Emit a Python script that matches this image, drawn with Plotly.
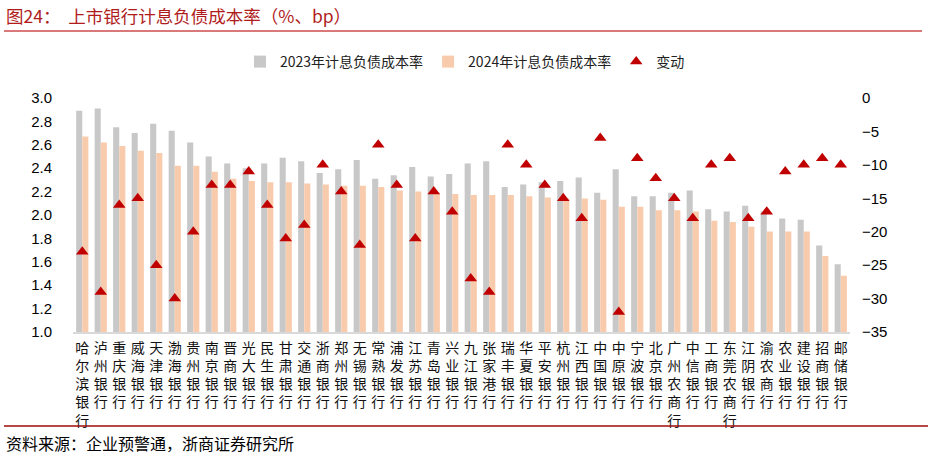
import plotly.graph_objects as go

banks = ["哈尔滨银行", "泸州银行", "重庆银行", "威海银行", "天津银行", "渤海银行", "贵州银行",
         "南京银行", "晋商银行", "光大银行", "民生银行", "甘肃银行", "交通银行", "浙商银行",
         "郑州银行", "无锡银行", "常熟银行", "浦发银行", "江苏银行", "青岛银行", "兴业银行",
         "九江银行", "张家港行", "瑞丰银行", "华夏银行", "平安银行", "杭州银行", "江西银行",
         "中国银行", "中原银行", "宁波银行", "北京银行", "广州农商行", "中信银行", "工商银行",
         "东莞农商行", "江阴银行", "渝农商行", "农业银行", "建设银行", "招商银行", "邮储银行"]

rate_2023 = [2.89, 2.91, 2.75, 2.70, 2.78, 2.72, 2.62, 2.50, 2.44, 2.40, 2.44, 2.49, 2.46, 2.36,
             2.39, 2.47, 2.31, 2.34, 2.41, 2.33, 2.35, 2.44, 2.46, 2.24, 2.26, 2.28, 2.29, 2.32,
             2.19, 2.39, 2.16, 2.16, 2.19, 2.21, 2.05, 2.03, 2.08, 2.03, 1.97, 1.96, 1.74, 1.58]

rate_2024 = [2.67, 2.62, 2.59, 2.55, 2.53, 2.42, 2.42, 2.37, 2.31, 2.29, 2.28, 2.28, 2.27, 2.26,
             2.25, 2.25, 2.24, 2.21, 2.20, 2.19, 2.18, 2.17, 2.17, 2.17, 2.16, 2.15, 2.14, 2.14,
             2.13, 2.07, 2.07, 2.04, 2.04, 2.03, 1.95, 1.94, 1.90, 1.86, 1.86, 1.86, 1.65, 1.48]

change_bp = [-23, -29, -16, -15, -25, -30, -20, -13, -13, -11, -16, -21, -19, -10,
             -14, -22, -7, -13, -21, -14, -17, -27, -29, -7, -10, -13, -15, -18,
             -6, -32, -9, -12, -15, -18, -10, -9, -18, -17, -11, -10, -9, -10]

left_ticks = [1.0, 1.2, 1.4, 1.6, 1.8, 2.0, 2.2, 2.4, 2.6, 2.8, 3.0]
right_ticks = [0, -5, -10, -15, -20, -25, -30, -35]

W, H = 928, 458
L, R, T, B = 73, 850, 98, 332


def px(xp):
    return (xp - L) / (R - L)


def py(yp):
    return (B - yp) / (B - T)


tick_text = ["<br>".join(list(b)) for b in banks]

fig = go.Figure()
fig.add_trace(go.Bar(x=banks, y=rate_2023, name="2023年计息负债成本率",
                     marker=dict(color="#c8c8c8", line=dict(width=0))))
fig.add_trace(go.Bar(x=banks, y=rate_2024, name="2024年计息负债成本率",
                     marker=dict(color="#f8cbad", line=dict(width=0))))
fig.add_trace(go.Scatter(x=banks, y=change_bp, name="变动", yaxis="y2", mode="markers",
                         marker=dict(symbol="triangle-up", size=11, color="#c00000")))

fig.update_layout(
    width=W, height=H,
    margin=dict(l=L, r=W - R, t=T, b=H - B, pad=0),
    paper_bgcolor="white", plot_bgcolor="white",
    barmode="group", bargap=0.34, bargroupgap=0,
    font=dict(family="Noto Sans CJK SC", size=14, color="#000000"),
    showlegend=True,
    legend=dict(orientation="h", x=px(240), xanchor="left", y=py(62), yanchor="middle",
                font=dict(family="Noto Sans CJK SC", size=14, color="#222222"),
                itemwidth=30, tracegroupgap=0, bgcolor="rgba(0,0,0,0)"),
    xaxis=dict(type="category", tickmode="array", tickvals=banks, ticktext=tick_text,
               range=[-0.5, len(banks) - 0.5], showgrid=False, zeroline=False,
               showline=True, linecolor="#d9d9d9", linewidth=2, ticks="",
               tickangle=0, ticklabelstandoff=2,
               tickfont=dict(family="Noto Sans CJK SC", size=14, color="#111111")),
    yaxis=dict(range=[1.0, 3.0], tickmode="array", tickvals=left_ticks,
               ticktext=[f"{v:.1f}" for v in left_ticks],
               showgrid=False, zeroline=False, showline=False, ticks="",
               ticklabelstandoff=20,
               tickfont=dict(family="Liberation Sans", size=15, color="#000000")),
    yaxis2=dict(range=[-35, 0], overlaying="y", side="right", tickmode="array",
                tickvals=right_ticks, showgrid=False, zeroline=False, showline=False,
                ticks="", ticklabelstandoff=11,
                tickfont=dict(family="Liberation Sans", size=15, color="#000000")),
    annotations=[
        dict(text="图24：  上市银行计息负债成本率（%、bp）", xref="paper", yref="paper",
             x=px(4), y=py(16), xanchor="left", yanchor="middle", showarrow=False,
             font=dict(family="Noto Sans CJK SC", size=17.5, color="#b01c1c")),
        dict(text="资料来源：企业预警通，浙商证券研究所", xref="paper", yref="paper",
             x=px(4), y=py(443), xanchor="left", yanchor="middle", showarrow=False,
             font=dict(family="Noto Sans CJK SC", size=16, color="#000000")),
    ],
    shapes=[
        dict(type="line", xref="paper", yref="paper", x0=px(4), x1=px(922),
             y0=py(31), y1=py(31), line=dict(color="#cc4c4c", width=1.5)),
        dict(type="line", xref="paper", yref="paper", x0=px(4), x1=px(928),
             y0=py(426), y1=py(426), line=dict(color="#9c0a0a", width=1.5)),
    ],
)

fig.write_html("out.html", config={"displayModeBar": False},
               post_script="document.body.style.margin='0px';document.body.style.overflow='hidden';")
